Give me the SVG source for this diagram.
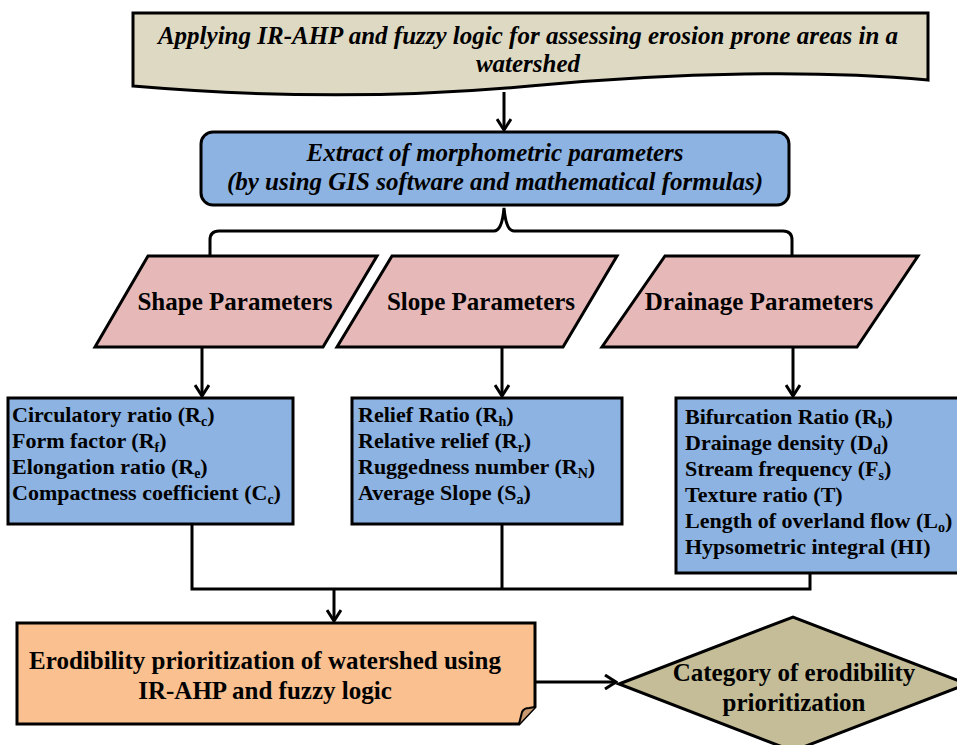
<svg xmlns="http://www.w3.org/2000/svg" width="957" height="745" viewBox="0 0 957 745">
<defs>
<marker id="arr" viewBox="0 0 14 16" refX="12" refY="8" markerWidth="14" markerHeight="16" markerUnits="userSpaceOnUse" orient="auto">
<path d="M1,1 L12,8 L1,15" fill="none" stroke="#000" stroke-width="3"/>
</marker>
<style>
.shape{stroke:#000;stroke-width:3;stroke-linejoin:miter}
.conn{fill:none;stroke:#000;stroke-width:3}
.t{font-family:"Liberation Serif","Times New Roman",serif;font-weight:bold;fill:#000}
.ti{font-style:italic;font-size:25px;text-anchor:middle}
.tc{font-size:25px;text-anchor:middle}
.tl{font-size:22px}
.sub{font-size:14px}
</style>
</defs>
<rect width="957" height="745" fill="#fff"/>
<g id="connectors">
<line class="conn" x1="504" y1="92" x2="504" y2="130" marker-end="url(#arr)"/>
<path class="conn" d="M210,256 V240 Q210,231 219,231 H494 Q502,231 504,208 Q506,231 514,231 H783 Q792,231 792,240 V256"/>
<line class="conn" x1="202" y1="347" x2="202" y2="396" marker-end="url(#arr)"/>
<line class="conn" x1="502" y1="347" x2="502" y2="396" marker-end="url(#arr)"/>
<line class="conn" x1="793" y1="347" x2="793" y2="396" marker-end="url(#arr)"/>
<path class="conn" d="M192,524 V589 H810 V573 M502,524 V589"/>
<line class="conn" x1="334" y1="589" x2="334" y2="621" marker-end="url(#arr)"/>
<line class="conn" x1="536" y1="682" x2="616" y2="682" marker-end="url(#arr)"/>
</g>
<g id="title">
<path class="shape" fill="#DDD9C3" d="M133,13 H928 V80 C820,70 680,72 530,86 C380,100 250,96 133,86 Z"/>
<text class="t ti" x="528" y="44">Applying IR-AHP and fuzzy  logic for assessing erosion prone areas in a</text>
<text class="t ti" x="528" y="72">watershed</text>
</g>
<g id="extract">
<rect class="shape" fill="#8DB3E2" x="201" y="132" width="588" height="73" rx="12"/>
<text class="t ti" x="495" y="161">Extract of morphometric parameters</text>
<text class="t ti" x="495" y="190">(by using GIS software and mathematical formulas)</text>
</g>
<g id="shape-params">
<polygon class="shape" fill="#E6B9B8" points="148,256 377,256 323,347 95,347"/>
<text class="t tc" x="235" y="310">Shape Parameters</text>
</g>
<g id="slope-params">
<polygon class="shape" fill="#E6B9B8" points="392,256 617,256 563,347 337,347"/>
<text class="t tc" x="481" y="310">Slope Parameters</text>
</g>
<g id="drainage-params">
<polygon class="shape" fill="#E6B9B8" points="665,256 918,256 857,347 602,347"/>
<text class="t tc" x="759" y="310">Drainage Parameters</text>
</g>
<g id="shape-list">
<rect class="shape" fill="#8DB3E2" x="8" y="398" width="285" height="126"/>
<text class="t tl" x="12" y="422">Circulatory ratio (R<tspan class="sub" dy="4">c</tspan><tspan dy="-4">)</tspan></text>
<text class="t tl" x="12" y="448">Form factor (R<tspan class="sub" dy="4">f</tspan><tspan dy="-4">)</tspan></text>
<text class="t tl" x="12" y="474">Elongation ratio (R<tspan class="sub" dy="4">e</tspan><tspan dy="-4">)</tspan></text>
<text class="t tl" x="12" y="500">Compactness coefficient  (C<tspan class="sub" dy="4">c</tspan><tspan dy="-4">)</tspan></text>
</g>
<g id="slope-list">
<rect class="shape" fill="#8DB3E2" x="352" y="398" width="270" height="126"/>
<text class="t tl" x="358" y="422">Relief Ratio (R<tspan class="sub" dy="4">h</tspan><tspan dy="-4">)</tspan></text>
<text class="t tl" x="358" y="448">Relative relief (R<tspan class="sub" dy="4">r</tspan><tspan dy="-4">)</tspan></text>
<text class="t tl" x="358" y="474">Ruggedness number (R<tspan class="sub" dy="4">N</tspan><tspan dy="-4">)</tspan></text>
<text class="t tl" x="358" y="500">Average Slope (S<tspan class="sub" dy="4">a</tspan><tspan dy="-4">)</tspan></text>
</g>
<g id="drainage-list">
<rect class="shape" fill="#8DB3E2" x="676" y="398" width="290" height="175"/>
<text class="t tl" x="685" y="424">Bifurcation Ratio (R<tspan class="sub" dy="4">b</tspan><tspan dy="-4">)</tspan></text>
<text class="t tl" x="685" y="450">Drainage density (D<tspan class="sub" dy="4">d</tspan><tspan dy="-4">)</tspan></text>
<text class="t tl" x="685" y="476">Stream frequency  (F<tspan class="sub" dy="4">s</tspan><tspan dy="-4">)</tspan></text>
<text class="t tl" x="685" y="502">Texture ratio (T)</text>
<text class="t tl" x="685" y="528">Length of overland flow (L<tspan class="sub" dy="4">o</tspan><tspan dy="-4">)</tspan></text>
<text class="t tl" x="685" y="554">Hypsometric integral (HI)</text>
</g>
<g id="erodibility">
<path class="shape" fill="#FAC090" d="M17,623 H535 V707 L519,724 H17 Z"/>
<path d="M519,724 L522,712 Q524,708 529,708 L535,707" fill="#C99A72" stroke="#000" stroke-width="2"/>
<text class="t tc" x="265" y="669">Erodibility prioritization of watershed using</text>
<text class="t tc" x="265" y="699">IR-AHP and fuzzy logic</text>
</g>
<g id="category">
<polygon class="shape" fill="#C4BD97" points="619,684 793,617 967,684 793,751"/>
<text class="t tc" x="794" y="681">Category of erodibility</text>
<text class="t tc" x="794" y="711">prioritization</text>
</g>
</svg>
